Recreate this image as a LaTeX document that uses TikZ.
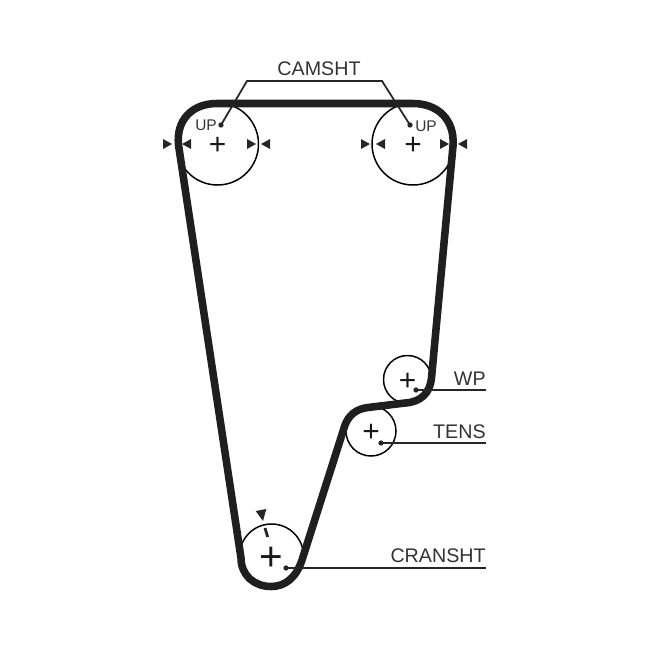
\documentclass[tikz,border=0pt]{standalone}
\usepackage{fontspec}
\setmainfont{Liberation Sans}
\usetikzlibrary{positioning}
\usetikzlibrary{calc}
\tikzset{
    pulley/.style={draw,circle,line width=0.85pt,inner sep=0pt},
    plusmark/.style={inner sep=0pt,color=black!90,font=\fontsize{17}{17}\selectfont},
    belt/.style={line width=4.3pt,line join=round,color=black!88},
    leader/.style={line width=1pt,color=black!85},
    dot/.style={circle,fill=black!85,inner sep=0pt,minimum size=3pt},
    lbl/.style={font=\fontsize{11.2}{13}\selectfont,color=black!80,inner sep=0pt},
    uplbl/.style={font=\fontsize{8.8}{10}\selectfont,color=black!80,inner sep=0pt},
}
\begin{document}
\begin{tikzpicture}[x=0.02cm,y=-0.02cm]
\useasboundingbox (0,0) rectangle (650,650);
% pulleys
\node[pulley,minimum size=82*0.02cm] (camL) at (217.5,144) {};
\node[pulley,minimum size=82*0.02cm] (camR) at (413,144) {};
\node[pulley,minimum size=48*0.02cm] (wp) at (407.5,379.5) {};
\node[pulley,minimum size=50*0.02cm] (tens) at (371,431) {};
\node[pulley,minimum size=64*0.02cm] (crank) at (271.5,556) {};
\foreach \n in {camL,camR,wp,tens}
    \node[plusmark] (plus\n) at ($(\n.center)+(0,2)$) {+};
\node[plusmark,font=\fontsize{23}{23}\selectfont] (pluscrank) at ($(crank.center)+(0,2.7)$) {+};
% belt
\draw[belt] (178.5,145) .. controls (176,120) and (192,103.5) .. (217,103.5)
    -- (413,103.5) .. controls (438,103.5) and (455,120) .. (453,146)
    -- (431.5,378) .. controls (430,393) and (421,402) .. (405,403)
    -- (368,407.5) .. controls (356,409) and (349,415) .. (345,425)
    -- (302,560) .. controls (296,578) and (285,586.5) .. (271,586.5)
    .. controls (254,586.5) and (241,575) .. (241,558) -- cycle;
% labels
\node[lbl] (camsht) at (319,69) {CAMSHT};
\node[lbl,anchor=east] (wplbl) at (486,379) {WP};
\node[lbl,anchor=east] (tenslbl) at (486,432) {TENS};
\node[lbl,anchor=east] (cranklbl) at (486,556) {CRANSHT};
\node[uplbl] (upL) at (206,125) {UP};
\node[uplbl] (upR) at (426,126) {UP};
% leaders
\node[dot] (dcamL) at (221,125) {};
\node[dot] (dcamR) at (410,125) {};
\node[dot] (dwp) at (416,390) {};
\node[dot] (dtens) at (381,443) {};
\node[dot] (dcrank) at (286,568) {};
\coordinate (eL) at (247,81);
\coordinate (eR) at (382,81);
\coordinate (ewp) at (486,390);
\coordinate (etens) at (486,443);
\coordinate (ecrank) at (486,568);
\draw[leader] (dcamL.center) -- (eL) -- (eR) -- (dcamR.center);
\draw[leader] (dwp.center) -- (ewp);
\draw[leader] (dtens.center) -- (etens);
\draw[leader] (dcrank.center) -- (ecrank);
% timing marks
\foreach \x in {163,247,361,440}
    \fill[black!85] (\x,139) -- (\x+9,144) -- (\x,149) -- cycle;
\foreach \x in {191,270,385,467}
    \fill[black!85] (\x,139) -- (\x-9,144) -- (\x,149) -- cycle;
\fill[black!85] (255.7,511) -- (266.3,509) -- (263,521) -- cycle;
\draw[line width=1.6pt,color=black!85] (265,528) -- (267.7,537);
\end{tikzpicture}
\end{document}
